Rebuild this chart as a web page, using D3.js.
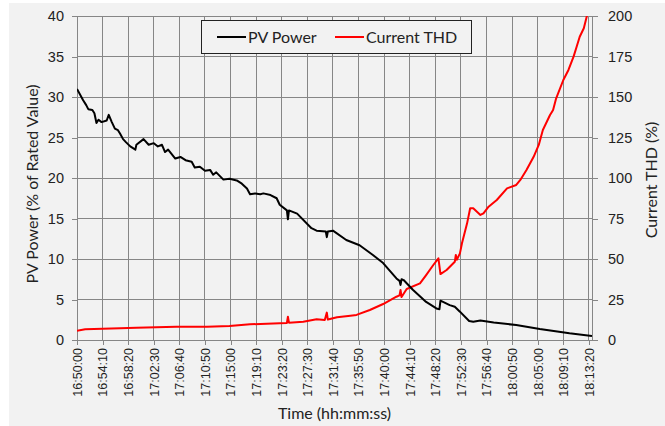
<!DOCTYPE html>
<html>
<head>
<meta charset="utf-8">
<script src="https://cdn.jsdelivr.net/npm/d3@7"></script>
<style>
  body { margin: 0; background: #fff; }
  svg { font-family: Lato, "Open Sans", sans-serif; }
</style>
</head>
<body>
<script>
// PV power (% of rated value), left axis
const pvTimes = ["16:50:00","16:51:00","16:51:30","16:51:50","16:52:30","16:52:50","16:53:10","16:53:30","16:54:00","16:54:50",
  "16:55:10","16:55:40","16:56:10","16:56:40","16:57:00","16:57:30","16:58:00","16:58:40","16:59:30","16:59:40",
  "17:00:50","17:01:40","17:02:30","17:03:10","17:03:50","17:04:20","17:04:50","17:06:00","17:06:50","17:07:40",
  "17:08:40","17:09:10","17:10:00","17:10:50","17:11:40","17:12:10","17:12:40","17:13:50","17:14:50","17:16:00",
  "17:16:50","17:17:40","17:18:10","17:19:00","17:19:50","17:20:20","17:21:30","17:22:30","17:23:00","17:24:10",
  "17:24:20","17:24:30","17:25:50","17:28:10","17:29:00","17:30:30","17:30:40","17:30:50","17:31:40","17:33:50",
  "17:36:00","17:38:10","17:39:50","17:42:00","17:42:30","17:42:40","17:42:50","17:43:10","17:44:40","17:46:50",
  "17:48:30","17:49:00","17:49:10","17:50:40","17:51:30","17:52:20","17:53:50","17:54:30","17:55:40","17:57:50",
  "18:01:30","18:05:20","18:10:10","18:13:50"];
const pvValues = [31.0,29.6,29.0,28.5,28.4,28.0,26.8,27.2,26.9,27.1,
  27.8,26.9,26.1,25.9,25.5,24.8,24.4,23.9,23.5,24.1,
  24.8,24.1,24.3,23.9,24.1,23.2,23.5,22.4,22.6,22.2,
  22.0,21.3,21.4,20.9,21.0,20.4,20.7,19.8,19.9,19.7,
  19.3,18.7,18.0,18.1,18.0,18.1,17.9,17.5,16.7,16.0,
  14.9,16.0,15.6,13.8,13.5,13.4,12.7,13.4,13.5,12.35,
  11.7,10.5,9.5,7.6,7.3,6.8,7.5,7.4,6.2,4.7,
  3.9,3.8,4.85,4.3,4.1,3.5,2.35,2.26,2.4,2.15,
  1.85,1.36,0.83,0.5];

// Current THD (%), right axis
const thdTimes = ["16:50:00","16:51:20","16:57:00","16:59:40","17:06:10","17:11:10","17:14:50","17:18:10","17:23:00","17:24:10",
  "17:24:20","17:24:30","17:26:50","17:29:00","17:30:20","17:30:40","17:30:50","17:32:20","17:34:30","17:35:30",
  "17:37:40","17:39:50","17:42:00","17:42:30","17:42:40","17:42:50","17:43:40","17:45:50","17:46:50","17:48:00",
  "17:48:50","17:49:10","17:50:10","17:51:30","17:51:40","17:51:50","17:52:20","17:52:40","17:53:30","17:54:00",
  "17:54:30","17:55:40","17:56:10","17:57:00","17:58:20","18:00:00","18:01:30","18:02:10","18:03:10","18:04:20",
  "18:05:10","18:05:50","18:07:00","18:07:30","18:08:00","18:09:10","18:10:00","18:10:50","18:11:20","18:11:50",
  "18:12:30","18:13:00","18:13:50"];
const thdValues = [5.7,6.6,7.2,7.6,8.2,8.2,8.6,9.7,10.3,10.5,
  14.4,10.7,11.3,12.8,12.3,16.9,12.6,14.0,15.0,15.5,
  18.5,22.2,26.7,27.5,30.9,26.5,31.5,35.0,40.1,46.3,
  50.4,40.7,43.2,48.3,52.5,49.5,53.5,59.7,72.0,81.3,
  81.3,77.2,78.2,82.3,86.4,93.6,95.7,98.8,104.9,113.1,
  120.4,129.6,138.9,142.0,149.2,160.5,166.7,174.9,181.0,187.2,
  192.4,200.0,206.0];

// x-axis tick labels, every 4 min 10 s
const tickLabels = ["16:50:00","16:54:10","16:58:20","17:02:30","17:06:40","17:10:50","17:15:00","17:19:10","17:23:20","17:27:30",
  "17:31:40","17:35:50","17:40:00","17:44:10","17:48:20","17:52:30","17:56:40","18:00:50","18:05:00","18:09:10","18:13:20"];
const pvTicks = [0,5,10,15,20,25,30,35,40];
const thdTicks = [0,25,50,75,100,125,150,175,200];

const W = 665, H = 426;
const margin = { top: 16, right: 73, bottom: 86, left: 77 };
const parse = d3.timeParse("%H:%M:%S");
const gridColor = "#868686";

const svg = d3.select("body").append("svg")
  .attr("width", W).attr("height", H);

svg.append("rect")
  .attr("x", 9).attr("y", 3)
  .attr("width", W - 9).attr("height", H - 3)
  .attr("fill", "#f2f2f2");

const x = d3.scaleTime()
  .domain([parse("16:50:00"), parse("18:13:50")])
  .range([margin.left, W - margin.right]);
const yL = d3.scaleLinear().domain([0, 40]).range([H - margin.bottom, margin.top]);
const yR = d3.scaleLinear().domain([0, 200]).range([H - margin.bottom, margin.top]);

// grid
const grid = svg.append("g");
grid.selectAll(".hg").data(pvTicks).enter().append("line")
  .attr("x1", margin.left).attr("x2", W - margin.right)
  .attr("y1", d => yL(d)).attr("y2", d => yL(d))
  .attr("stroke", gridColor).attr("stroke-width", 1).attr("shape-rendering", "crispEdges");
grid.selectAll(".vg").data(tickLabels).enter().append("line")
  .attr("x1", d => x(parse(d))).attr("x2", d => x(parse(d)))
  .attr("y1", yL(0)).attr("y2", yL(40))
  .attr("stroke", gridColor).attr("stroke-width", 1).attr("shape-rendering", "crispEdges");

// axes
const styleAxis = g => {
  g.selectAll("path,line").attr("stroke", gridColor).attr("shape-rendering", "crispEdges");
  g.selectAll("text").attr("fill", "#222");
};

svg.append("g")
  .attr("transform", `translate(${margin.left},0)`)
  .call(d3.axisLeft(yL).tickValues(pvTicks).tickSize(5).tickSizeOuter(0).tickPadding(8))
  .call(styleAxis)
  .selectAll("text").style("font-size", "14.5px");

svg.append("g")
  .attr("transform", `translate(${W - margin.right},0)`)
  .call(d3.axisRight(yR).tickValues(thdTicks).tickSize(6).tickSizeOuter(0).tickPadding(10))
  .call(styleAxis)
  .selectAll("text").style("font-size", "14.5px");

const xAxis = svg.append("g")
  .attr("transform", `translate(0,${H - margin.bottom})`)
  .call(d3.axisBottom(x).tickValues(tickLabels.map(parse)).tickSize(5).tickSizeOuter(0)
    .tickFormat(d3.timeFormat("%H:%M:%S")))
  .call(styleAxis);
xAxis.selectAll("text")
  .style("font-size", "12.5px")
  .attr("transform", "rotate(-90)")
  .attr("text-anchor", "end")
  .attr("x", -8).attr("y", 0).attr("dy", "0.35em");

// clip to plot area
svg.append("clipPath").attr("id", "plot")
  .append("rect")
  .attr("x", margin.left).attr("y", margin.top)
  .attr("width", W - margin.left - margin.right)
  .attr("height", H - margin.top - margin.bottom);

const pvLine = d3.line().x((d, i) => x(parse(pvTimes[i]))).y(d => yL(d));
const thdLine = d3.line().x((d, i) => x(parse(thdTimes[i]))).y(d => yR(d));

svg.append("path").datum(thdValues)
  .attr("clip-path", "url(#plot)")
  .attr("d", thdLine).attr("fill", "none")
  .attr("stroke", "#ff0000").attr("stroke-width", 2).attr("stroke-linejoin", "round");

svg.append("path").datum(pvValues)
  .attr("clip-path", "url(#plot)")
  .attr("d", pvLine).attr("fill", "none")
  .attr("stroke", "#000").attr("stroke-width", 2).attr("stroke-linejoin", "round");

// axis titles
svg.append("text")
  .attr("transform", `translate(38,184) rotate(-90)`)
  .attr("text-anchor", "middle").style("font-size", "16px").attr("fill", "#222")
  .text("PV Power (% of Rated Value)");
svg.append("text")
  .attr("transform", `translate(657,180) rotate(-90)`)
  .attr("text-anchor", "middle").style("font-size", "16px").attr("fill", "#222")
  .text("Current THD (%)");
svg.append("text")
  .attr("x", (margin.left + W - margin.right) / 2).attr("y", 419)
  .attr("text-anchor", "middle").style("font-size", "16px").attr("fill", "#222")
  .text("Time (hh:mm:ss)");

// legend
const legend = svg.append("g");
legend.append("rect")
  .attr("x", 201.5).attr("y", 20.5).attr("width", 270).attr("height", 33)
  .attr("fill", "#f2f2f2").attr("stroke", "#222").attr("stroke-width", 1);
const items = [
  { name: "PV Power", color: "#000", x0: 217 },
  { name: "Current THD", color: "#ff0000", x0: 335 }
];
items.forEach(it => {
  legend.append("line")
    .attr("x1", it.x0).attr("x2", it.x0 + 29).attr("y1", 37).attr("y2", 37)
    .attr("stroke", it.color).attr("stroke-width", 2);
  legend.append("text")
    .attr("x", it.x0 + 31).attr("y", 37).attr("dy", "0.35em")
    .style("font-size", "16px").attr("fill", "#222")
    .text(it.name);
});
</script>
</body>
</html>
